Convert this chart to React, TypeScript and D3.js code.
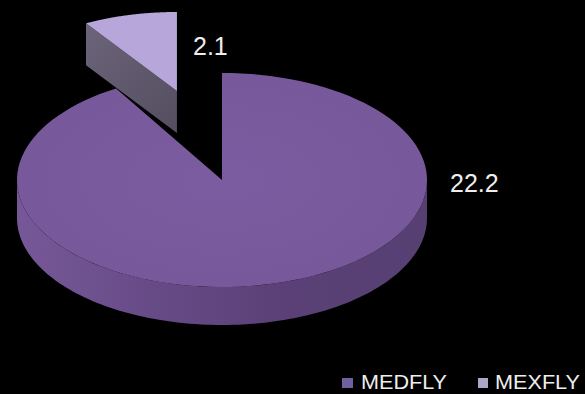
import React from "react";
import * as d3 from "d3";

const categories = ["MEDFLY", "MEXFLY"];
const values = [22.2, 2.1];
const valueLabels = ["22.2", "2.1"];

const W = 585;
const H = 394;
const CX = 222;
const CY = 180;
const RX = 205;
const RY = 107;
const DEPTH = 38;
const EXPLODE = 168;
const EXPLODE_YS = 0.55;
const ERX = 176;
const ERY = 79;
const EDEPTH = 42;

function arcPts(cx: number, cy: number, rx: number, ry: number, a0: number, a1: number, n = 120): [number, number][] {
  const pts: [number, number][] = [];
  for (let i = 0; i <= n; i++) {
    const a = a0 + ((a1 - a0) * i) / n;
    pts.push([cx + rx * Math.sin(a), cy - ry * Math.cos(a)]);
  }
  return pts;
}

export default function App() {
  const pie = d3.pie<number>().sort(null).value((d) => d);
  const arcs = pie(values);
  const line = d3.line();

  const med = arcs[0];
  const mex = arcs[1];

  const medTop = line([[CX, CY], ...arcPts(CX, CY, RX, RY, med.startAngle, med.endAngle)])! + "Z";
  const s0 = Math.PI / 2;
  const s1 = (3 * Math.PI) / 2;
  const topFront = arcPts(CX, CY, RX, RY, s0, s1);
  const botFront = arcPts(CX, CY + DEPTH, RX, RY, s0, s1).reverse();
  const medSide = line([...topFront, ...botFront])! + "Z";

  const mid = (mex.startAngle + mex.endAngle) / 2;
  const tx = CX + EXPLODE * Math.sin(mid);
  const ty = CY - EXPLODE * EXPLODE_YS * Math.cos(mid);
  const mexTop = line([[tx, ty], ...arcPts(tx, ty, ERX, ERY, mex.startAngle, mex.endAngle)])! + "Z";
  const p0: [number, number] = [tx + ERX * Math.sin(mex.startAngle), ty - ERY * Math.cos(mex.startAngle)];
  const mexSide = line([[tx, ty], p0, [p0[0], p0[1] + EDEPTH], [tx, ty + EDEPTH]])! + "Z";

  const font = "'Liberation Sans', Arial, sans-serif";

  return (
    <div style={{ position: "fixed", left: 0, top: 0, width: W, height: H, background: "#000" }}>
      <svg width={W} height={H} style={{ display: "block" }}>
        <defs>
          <linearGradient id="sideGrad" x1="0" y1="0" x2="1" y2="0">
            <stop offset="0" stopColor="rgb(118,88,152)" />
            <stop offset="0.35" stopColor="rgb(102,74,134)" />
            <stop offset="0.65" stopColor="rgb(90,64,118)" />
            <stop offset="1" stopColor="rgb(86,64,114)" />
          </linearGradient>
          <radialGradient id="topGrad" cx="0.5" cy="0.5" r="0.6">
            <stop offset="0" stopColor="rgb(124,92,160)" />
            <stop offset="1" stopColor="rgb(118,88,154)" />
          </radialGradient>
          <linearGradient id="mexSideGrad" x1="0" y1="0" x2="1" y2="1">
            <stop offset="0" stopColor="rgb(108,100,122)" />
            <stop offset="1" stopColor="rgb(84,78,96)" />
          </linearGradient>
        </defs>
        <rect x={0} y={0} width={W} height={H} fill="#000" />
        <path d={medSide} fill="url(#sideGrad)" />
        <path d={medTop} fill="url(#topGrad)" />
        <path d={mexSide} fill="url(#mexSideGrad)" />
        <path d={mexTop} fill="rgb(182,166,218)" />

        <text x={450} y={192} fill="#eee" fontFamily={font} fontSize={25}>{valueLabels[0]}</text>
        <text x={193} y={55} fill="#eee" fontFamily={font} fontSize={25}>{valueLabels[1]}</text>

        <rect x={342} y={378} width={11} height={10} fill="rgb(112,96,160)" />
        <text x={361} y={389} fill="#eee" fontFamily={font} fontSize={21} textLength={86} lengthAdjust="spacingAndGlyphs">{categories[0]}</text>
        <rect x={478} y={378} width={10} height={10} fill="rgb(172,166,200)" />
        <text x={495} y={389} fill="#eee" fontFamily={font} fontSize={21} textLength={85} lengthAdjust="spacingAndGlyphs">{categories[1]}</text>
      </svg>
    </div>
  );
}
